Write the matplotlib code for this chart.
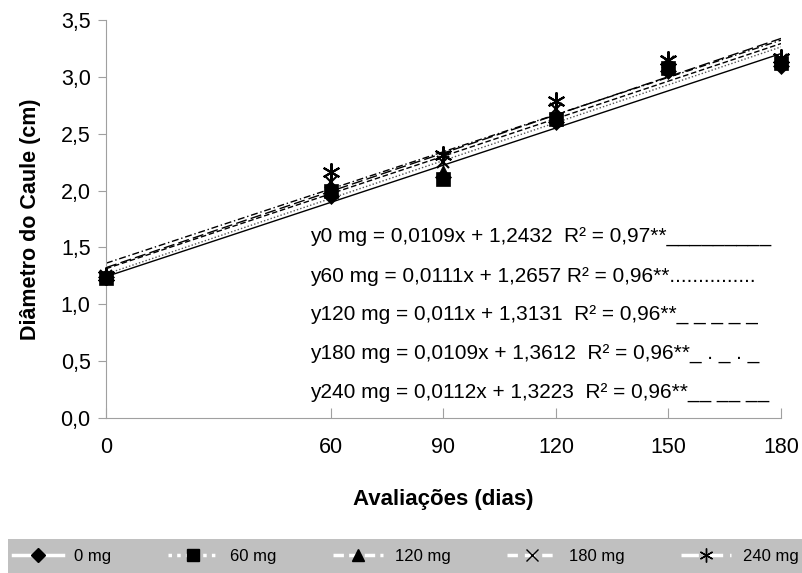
import matplotlib
matplotlib.use("Agg")
import matplotlib.pyplot as plt
from matplotlib.lines import Line2D
from matplotlib.patches import Rectangle
import numpy as np

plt.rcParams['font.family'] = ['Liberation Sans', 'DejaVu Sans']

# data
dias = [0, 60, 90, 120, 150, 180]
d0 = [1.24, 1.95, 2.12, 2.60, 3.05, 3.10]
d60 = [1.23, 2.00, 2.10, 2.63, 3.08, 3.12]
d120 = [1.24, 2.03, 2.17, 2.67, 3.10, 3.13]
d180 = [1.25, 2.08, 2.25, 2.72, 3.13, 3.15]
d240 = [1.25, 2.16, 2.31, 2.79, 3.15, 3.17]

doses = ['0 mg', '60 mg', '120 mg', '180 mg', '240 mg']
slopes = [0.0109, 0.0111, 0.011, 0.0109, 0.0112]
inters = [1.2432, 1.2657, 1.3131, 1.3612, 1.3223]
eqs = ['y0 mg = 0,0109x + 1,2432  R² = 0,97**_________',
       'y60 mg = 0,0111x + 1,2657 R² = 0,96**...............',
       'y120 mg = 0,011x + 1,3131  R² = 0,96**_ _ _ _ _',
       'y180 mg = 0,0109x + 1,3612  R² = 0,96**_ . _ . _',
       'y240 mg = 0,0112x + 1,3223  R² = 0,96**__ __ __']

series = [d0, d60, d120, d180, d240]
markers = ['D', 's', '^', 'x', (6, 2, 0)]
msizes = [8, 10, 9, 9, 13]
lstyles = ['-', (0, (1, 1.5)), (0, (4, 2)), (0, (5, 2, 1, 2)), (0, (8, 3))]
lcolors = ['black', '#555555', 'black', 'black', 'black']

fig = plt.figure(figsize=(8.03, 5.73), dpi=100)
ax = fig.add_axes([0.132, 0.2705, 0.8406, 0.6945])

xs = np.array([0, 180])
for a, b, ls, c in zip(slopes, inters, lstyles, lcolors):
    ax.plot(xs, a * xs + b, color=c, linestyle=ls, linewidth=1.0)

for vals, m, ms in zip(series, markers, msizes):
    ax.plot(dias, vals, linestyle='none', marker=m, markersize=ms,
            color='black', markeredgewidth=1.5 if m in ('x',) or isinstance(m, tuple) else 0.5,
            clip_on=False, zorder=5)

ax.set_xlim(0, 180)
ax.set_ylim(0, 3.5)
ax.set_xticks(dias)
ax.set_xticklabels([str(d) for d in dias])
yt = np.arange(0, 3.51, 0.5)
ax.set_yticks(yt)
ax.set_yticklabels([f"{v:.1f}".replace('.', ',') for v in yt])
for s in ['top', 'right']:
    ax.spines[s].set_visible(False)
for s in ['left', 'bottom']:
    ax.spines[s].set_color('#a0a0a0')
ax.tick_params(axis='y', direction='out', length=6, color='#a0a0a0', labelsize=15.5, pad=5)
ax.tick_params(axis='x', direction='in', length=7, color='#a0a0a0', labelsize=15.5, pad=14)

ax.set_ylabel('Diâmetro do Caule (cm)', fontsize=15.5, fontweight='bold', labelpad=14)
ax.set_xlabel('Avaliações (dias)', fontsize=16, fontweight='bold', labelpad=22)

for i, t in enumerate(eqs):
    fig.text(310 / 803, 1 - (237 + 39 * i) / 573, t, fontsize=15, va='center', ha='left')

# legend band
fig.patches.append(Rectangle((8 / 803, 0), 1, 34 / 573, transform=fig.transFigure,
                             facecolor='#c0c0c0', edgecolor='none', zorder=0))
handles = []
for m, ls, ms in zip(markers, ['-', (0, (1, 1.5)), (0, (3, 1.5)), (0, (3, 2)), (0, (5, 2))],
                     [7, 8, 8, 8, 10]):
    handles.append(Line2D([], [], color='white', linestyle=ls, linewidth=2.5, marker=m,
                          markersize=ms, markerfacecolor='black', markeredgecolor='black',
                          markeredgewidth=1.0))
fig.legend(handles, doses, loc='center', bbox_to_anchor=(0.505, 17 / 573), ncol=5,
           frameon=False, fontsize=12, handlelength=3.0, columnspacing=3.4, handletextpad=0.7,
           borderpad=0.2)

fig.savefig('out.png', dpi=100)
